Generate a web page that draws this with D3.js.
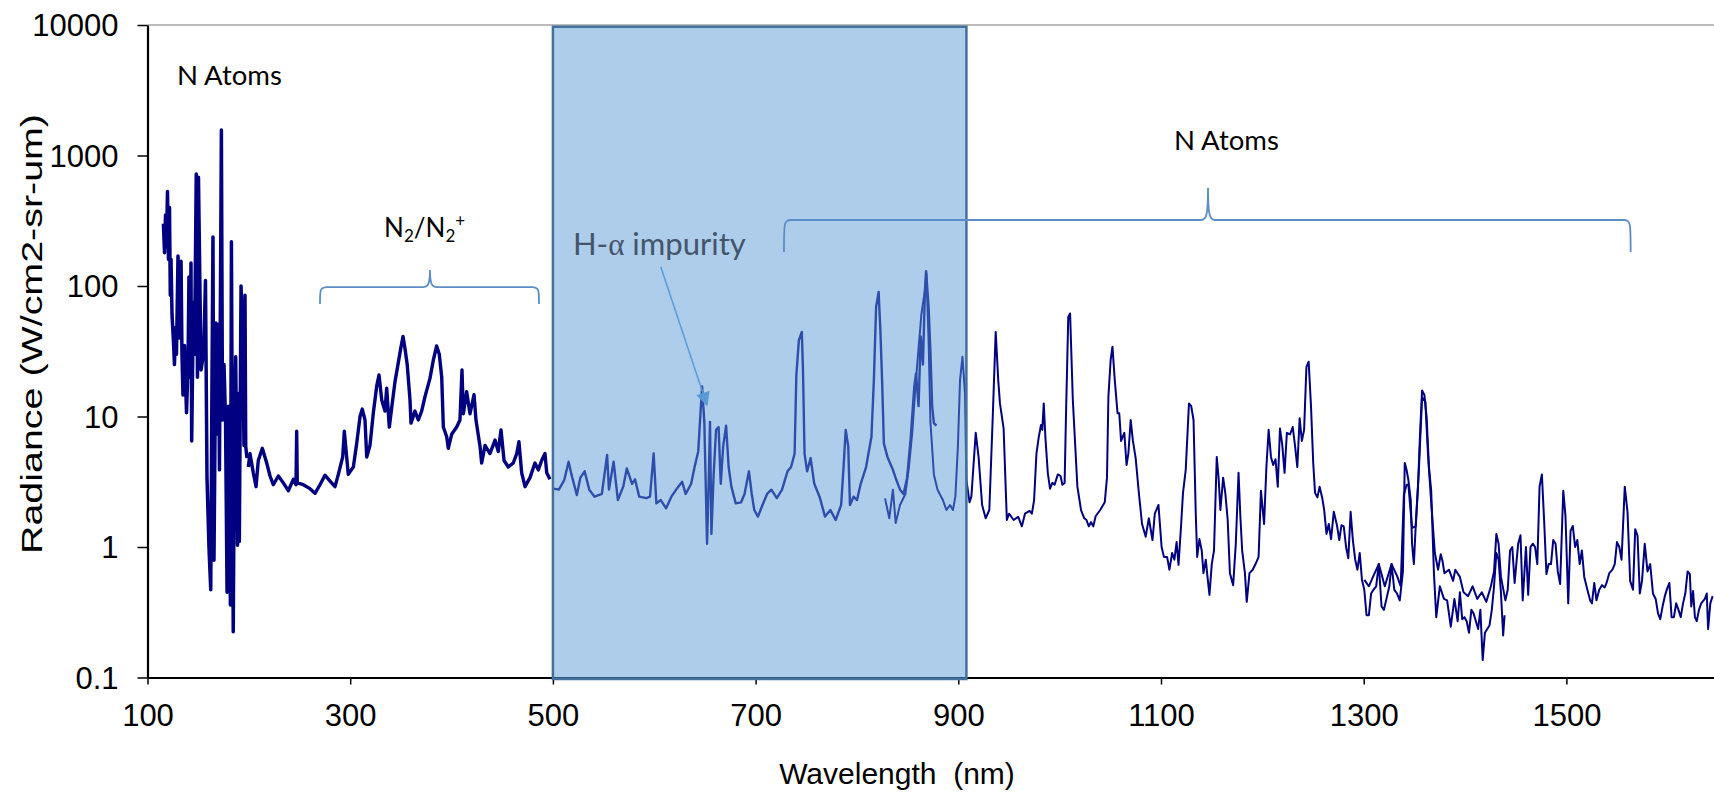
<!DOCTYPE html>
<html><head><meta charset="utf-8">
<script src="https://cdn.jsdelivr.net/npm/d3@7"></script>
<style>body{margin:0;background:#fff;} svg{display:block;}</style>
</head><body>
<svg id="chart" width="1714" height="794"></svg>
<script>
// ---------------- DATA ----------------
const xTicks = [100,300,500,700,900,1100,1300,1500];
const yTicks = [0.1,1,10,100,1000,10000];
const yTickLabels = ["0.1","1","10","100","1000","10000"];

// VUV region (N atoms lines)
const vuvNm = [115.7,116.8,117.8,118.7,119.7,120.7,121.7,122.5,123.2,124.2,
125.6,126.6,127.6,128.6,130.1,131.1,133.1,134.0,135.0,136.5,
138.5,140.0,140.9,141.9,142.9,143.6,145.3,146.4,148.1,149.3,
150.3,152.8,155.5,157.2,158.7,160.7,162.4,163.6,164.6,165.6,
167.5,169.2,170.1,171.0,172.9,174.0,175.5,177.0,178.5,179.9,
181.8,182.8,183.7,184.6,185.8,187.0,188.8,189.8,190.6,192.3,
194.1,195.2,196.2,196.9,198.2];
const vuvRad = [300,180,350,200,530,160,400,85,160,60,
38,25,48,30,170,40,155,30,14.6,35,
10.7,25,117,20,150,6.5,75,30,720,20,
680,22.7,31,110,3.4,0.97,0.47,17.7,237,0.79,
52,7.3,51,3.9,1568,9.4,25,9.4,0.45,12,
0.36,218,5,0.224,8,28.7,1.03,15,1.1,100,
34,6,85,5.9,4.8];

// UV region (N2 / N2+ bands)
const uvNm = [199.5,201.1,204.4,207.1,209.3,213.3,217.6,220.9,224.1,229.1,
234.0,238.9,243.9,246.5,247.2,247.8,253.7,260.3,265.3,270.2,
275.1,280.1,285.0,288.3,292.6,294.2,296.5,298.1,303.1,306.4,
309.7,311.9,314.6,316.3,319.5,322.8,326.1,328.4,331.1,334.3,
336.0,338.6,340.9,344.2,347.5,350.1,352.1,354.1,356.3,359.0,
360.0,363.9,367.2,370.5,373.8,378.7,382.0,385.3,387.9,390.3,
391.9,395.2,396.8,400.1,405.1,408.3,410.3,411.6,414.9,418.2,
422.2,424.1,428.1,429.7,433.0,437.9,442.9,446.1,448.8,451.8,
456.0,460.9,464.3,466.5,469.2,472.5,477.4,482.3,485.6,488.9,
492.2,493.9,497.1];
const uvRad = [4.1,5.2,3.7,2.9,4.6,5.7,4.4,3.5,3.0,3.5,
3.1,2.7,3.3,3.0,7.7,3.1,3.0,2.8,2.58,3.0,
3.55,3.2,2.9,3.6,4.9,7.7,4.9,3.6,4.1,6.2,
10,11.4,9.4,4.9,6,10.6,17,20.8,13.4,11,
16.5,8.3,11.6,18.5,26,34,41,33,24.8,13.4,
8.9,11,9.4,11,14.2,19.6,27,34.7,30,20,
8.3,7,5.7,7.3,8.3,9.4,22.7,10.5,15.5,10.5,
14.7,9.4,5.9,4.4,6,5.2,6.6,5.4,7.9,4.6,
4.1,4.4,5.2,6.4,3.7,2.9,3.4,4.4,3.9,4.6,
5.2,3.7,3.3];

// Visible region (first spectrometer, ends at ~878 nm)
const visNm = [500.7,505.9,511.2,515.5,518.3,523.6,527.1,531.3,535.9,541.1,
548.3,553.5,555.3,559.9,564.1,569.4,572.9,578.1,581.0,585.2,
592.3,595.8,599.4,602.1,606.4,611.7,616.9,622.3,627.5,631.0,
636.4,639.8,643.4,645.8,647.2,649.4,650.5,652.1,653.9,655.0,
656.4,658.6,661.0,663.5,665.6,668.0,670.9,673.4,676.1,680.4,
685.7,689.1,693.4,696.2,698.7,702.3,706.8,711.3,715.6,720.9,
726.1,731.5,735.0,738.5,740.2,742.7,745.6,746.7,748.3,750.8,
754.3,757.9,763.1,768.5,773.8,779.0,784.4,786.8,788.9,791.4,
793.1,796.7,800.1,803.7,809.0,814.3,816.7,818.9,821.4,823.1,
824.8,826.6,830.1,835.5,838.9,842.5,846.0,849.5,853.0,856.6,
858.3,860.8,862.9,865.1,867.1,868.2,870.7,872.5,874.2,875.9,878.4];
const visRad = [2.8,2.75,3.26,4.5,3.6,2.5,3.4,3.8,2.75,2.43,
2.55,5.07,2.75,4.5,2.29,2.9,4.0,3.05,3.3,2.43,
2.37,2.43,5.2,2.16,2.29,1.98,2.43,2.8,3.16,2.55,
3.05,4.1,5.4,11.2,17,9.1,3.8,1.06,3.6,9.1,
1.26,3.6,7.9,8.3,3.05,5.9,8.5,4.1,2.9,2.16,
2.2,2.55,3.8,2.55,1.92,1.71,2.1,2.55,2.75,2.37,
2.75,3.8,4.1,5.2,20.8,38.5,44.5,23.6,5.2,3.8,
4.8,3.05,2.43,1.71,1.92,1.61,2.1,4.1,7.9,5.9,
2.1,2.43,2.29,3.05,4.1,7,19,69,90,46,
19,6.2,4.9,3.9,3.26,2.75,2.55,3.4,6.8,17,
21.4,12,41,25,93,130,69,31,12,8.9,8.5];

// Near-IR region (second spectrometer, ~828-1439 nm)
const nirNm = [827.7,831.9,835.5,838.2,842.5,847.8,851.3,854.8,857.7,860.1,
863.6,867.1,868.5,870.7,872.5,875.9,879.5,884.8,888.3,891.8,
894.7,897.1,899.6,901.7,904.1,906.6,908.0,911.1,912.9,917.2,
920.0,923.5,927.0,930.6,934.1,936.9,939.4,
941.1,944.7,947.9,950.1,954.6,959.1,962.7,965.8,970.3,972.6,
974.8,977.1,979.3,981.6,982.9,984.3,986.0,988.3,990.5,992.8,
995.0,998.2,1000.9,1002.7,1004.9,1006.3,1008.5,1010.3,1013.0,1017.5,
1021.1,1024.3,1026.5,1028.8,1031.0,1033.2,1035.5,1040.0,1044.5,1046.7,
1048.1,1050.3,1052.1,1054.4,1057.1,1058.8,1060.6,1063.8,1066.0,1067.8,
1070.1,1072.3,1075.0,1078.2,1081.3,1084.9,1088.0,1091.6,1093.9,1097.5,
1100.6,1102.9,1106.0,1108.3,1111.0,1113.2,1115.4,1117.3,1119.9,1121.7,
1124.4,1127.6,1129.8,1132.1,1134.3,1135.7,1137.9,1140.2,1141.9,1144.2,
1145.6,1147.8,1150.1,1152.3,1155.0,1156.8,1158.6,1161.3,1163.5,1165.8,
1168.0,1171.2,1173.8,1176.5,1178.3,1180.1,1182.8,1184.6,1187.3,1190.5,
1193.6,1196.3,1198.6,1201.7,1204.0,1206.2,1208.5,1210.7,1213.0,1215.2,
1217.4,1219.7,1221.9,1224.2,1227.3,1230.0,1232.3,1234.5,1236.8,1239.0,
1241.2,1243.5,1245.7,1248.0,1250.2,1252.0,1254.3,1256.5,1259.2,1261.0,
1263.3,1265.5,1267.8,1270.5,1273.6,1275.9,1278.1,1280.3,1282.6,1284.8,
1287.1,1289.3,1291.6,1293.8,1296.1,1298.3,1300.6,1302.8,1305.1,1307.3,
1309.6,1312.3,1314.9,1317.6,1319.9,1322.1,1325.3,1327.5,1330.2,1332.9,
1335.6,1338.7,1340.5,1342.3,1344.1,1346.4,1347.7,1349.5,1351.3,1353.6,
1355.4,1357.6,1359.9,1362.1,1364.4,1366.6,1369.3,1371.6,1375.1,1379.2,
1382.3,1385.9,1389.5,1392.7,1394.9,1397.2,1399.4,1401.6,1403.9,1406.2,
1408.4,1410.7,1412.9,1415.1,1417.4,1419.6,1421.9,1424.1,1426.4,1428.6,
1430.9,1433.1,1435.4,1437.6,1439.0];
const nirRad = [2.36,1.66,2.75,1.53,2.1,2.55,4.1,7.9,17,28.7,
61,93,125,38,9.1,3.6,2.75,2.29,1.92,2.1,
1.92,2.43,5.9,19,28.7,15,3.26,2.2,2.43,7.5,
4.9,2.1,1.66,1.92,10.5,44.5,19,
12.6,8.1,1.61,1.8,1.61,1.7,1.44,1.8,1.89,1.8,
2.29,5.2,6.9,8.6,7.9,12.6,6.8,3.7,2.8,3.1,
3.0,3.6,3.5,3.0,3.1,10.6,58,61.6,13.4,2.9,
1.92,1.66,1.61,1.44,1.55,1.44,1.72,1.92,2.2,3.4,
14.2,27,34.3,19,10.6,10.6,6.5,7.5,4.25,5.2,
9.4,6.5,4.8,2.57,1.5,1.2,1.66,1.13,1.8,2.1,
1.0,0.84,0.84,0.67,0.9,0.8,1.09,0.73,1.5,2.6,
3.9,12.6,12,9.4,1.8,0.84,1.15,0.94,0.63,0.8,
0.62,0.43,0.74,0.94,4.9,3.4,1.92,3.4,2.57,1.61,
0.63,0.51,1.06,3.7,1.72,0.94,0.63,0.38,0.63,0.67,
0.75,0.84,2.7,1.5,4.1,7.9,4.9,4.25,4.7,2.9,
8.1,6.0,3.7,7.5,7.3,8.3,5.9,4.1,9.7,6.5,
7.9,24,26.3,12,4.4,2.6,2.4,2.9,2.35,1.92,
1.26,1.5,1.15,1.86,1.47,1.13,1.47,1.44,1.0,0.82,
1.86,1.13,0.8,0.67,0.9,0.56,0.47,0.3,0.3,0.44,
0.47,0.5,0.74,0.35,0.33,0.39,0.5,0.74,0.47,0.44,
0.39,0.65,4.4,3.9,3.26,2.29,1.06,0.74,1.44,2.9,
6.8,15.8,14.6,9.9,4.1,2.7,0.63,0.29,0.5,0.4,
0.39,0.245,0.4,0.27,0.45,0.28,0.29,0.27,0.22,0.33,
0.31,0.27,0.235,0.33,0.136,0.22,0.235,0.25,0.33,0.5,
0.9,0.8,0.45,0.21,0.3];

// IR region (third spectrometer, ~1300 nm onward)
const irNm = [1300.6,1305.1,1309.6,1314.9,1320.8,1327.5,1332.9,1336.5,1339.6,1342.3,
1344.1,1347.7,1351.3,1354.5,1357.6,1360.8,1363.5,1366.6,1370.2,1373.4,
1376.0,1377.8,1379.6,1384.1,1388.2,1390.4,1394.9,1398.5,1403.0,1407.5,
1412.0,1416.5,1421.0,1425.5,1428.6,1430.9,1433.1,1435.4,1439.8,1442.1,
1444.4,1446.6,1448.9,1452.4,1454.7,1456.9,1460.1,1462.3,1464.6,1466.8,
1469.1,1471.3,1473.5,1475.8,1478.0,1480.3,1482.5,1484.8,1487.0,1489.3,
1491.5,1493.8,1496.9,1499.1,1501.8,1504.1,1506.3,1508.6,1510.8,1513.1,
1515.3,1517.6,1520.7,1523.4,1525.2,1527.5,1529.7,1532.4,1535.1,1537.8,
1539.6,1542.3,1545.4,1547.7,1549.9,1552.2,1554.4,1557.6,1560.3,1562.9,
1565.7,1567.9,1570.2,1572.4,1574.6,1577.3,1580.0,1582.7,1585.4,1588.1,
1590.4,1592.6,1594.9,1597.1,1599.4,1601.6,1603.8,1606.1,1608.3,1610.6,
1612.8,1615.1,1617.3,1619.6,1621.8,1623.2,1625.0,1626.8,1628.6,1630.8,
1633.0,1636.6,1638.5,1639.8,1642.0,1644.3];
const irRad = [0.56,0.5,0.6,0.74,0.5,0.74,0.6,0.5,2.5,3.0,
3.0,1.4,1.44,4,14,13,5,2.2,0.9,0.67,
0.88,0.78,0.63,0.67,0.55,0.67,0.59,0.45,0.42,0.5,
0.4,0.45,0.38,0.5,0.65,1.26,1.06,0.59,0.39,0.47,
0.94,1.0,0.53,1.06,1.23,0.39,1.0,0.43,1.0,1.06,
1.0,0.74,2.9,3.6,1.61,0.62,0.74,0.74,1.13,1.06,
0.65,0.52,2.7,1.72,0.37,1.33,1.45,1.0,1.13,0.74,
0.94,0.59,0.47,0.39,0.37,0.53,0.39,0.47,0.51,0.49,
0.53,0.63,0.67,0.74,1.09,1.0,0.8,2.9,1.86,0.55,
0.47,1.37,1.22,0.44,0.55,1.06,0.65,0.74,0.44,0.40,
0.31,0.28,0.35,0.42,0.48,0.53,0.29,0.29,0.37,0.33,
0.29,0.37,0.44,0.65,0.62,0.35,0.46,0.29,0.27,0.33,
0.37,0.40,0.44,0.235,0.37,0.42];

// Highlighted band (nm) and annotation anchors (nm, radiance)
const bandNm = [500, 908];
const bandRad = [0.1, 9700];
const bracketN2 = {x0:270.2, xc:378.7, x1:486.3, yH:98.2, yTip:132.6, yEnd:72.8};
const bracketN = {x0:728.0, xc:1146.4, x1:1563.4, yH:320.5, yTip:566, yEnd:182.3};
const labelNAtomsLeft = [129.1, 3467];
const labelN2 = [333.4, 237.4];
const labelNAtomsRight = [1112.8, 1102];
const labelHalpha = [519.8, 172.9];
const arrowHalpha = [[606.4, 140.6],[652.0, 12.25]];

// ---------------- CHART ----------------
const svg = d3.select("#chart");
const x = d3.scaleLinear().domain([100,1700]).range([147.5, 1769.1]);
const y = d3.scaleLog().domain([0.1,10000]).range([677.5, 25]);
const NAVY = "#000080";
const BR = "#5B8DC8";

// top frame line
svg.append("line")
  .attr("x1", x(100)).attr("x2", 1714)
  .attr("y1", y(10000)).attr("y2", y(10000))
  .attr("stroke", "#a6a6a6").attr("stroke-width", 1.5);

// axes
const xAxis = d3.axisBottom(x).tickValues(xTicks).tickSize(7).tickSizeOuter(0).tickFormat(d3.format("d"));
const gx = svg.append("g").attr("transform", `translate(0,${y(0.1)})`).call(xAxis);
gx.select(".domain").attr("stroke", "#000").attr("stroke-width", 2.2);
gx.selectAll(".tick line").attr("stroke", "#000").attr("stroke-width", 1.5);
gx.selectAll(".tick text").attr("y", 48.5).attr("dy", 0)
  .attr("font-family", "'Liberation Sans', Arial, sans-serif").attr("font-size", 31).attr("fill", "#000");

const yAxis = d3.axisLeft(y).tickValues(yTicks).tickSize(10).tickSizeOuter(0)
  .tickFormat((d,i) => yTickLabels[i]);
const gy = svg.append("g").attr("transform", `translate(${x(100)},0)`).call(yAxis);
gy.select(".domain").attr("stroke", "#000").attr("stroke-width", 2.2);
gy.selectAll(".tick line").attr("stroke", "#000").attr("stroke-width", 1.5);
gy.selectAll(".tick text").attr("x", -29).attr("dy", "0.35em")
  .attr("font-family", "'Liberation Sans', Arial, sans-serif").attr("font-size", 31).attr("fill", "#000");

// axis titles
svg.append("text")
  .attr("x", 897).attr("y", 784).attr("text-anchor", "middle")
  .attr("font-family", "'Liberation Sans', Arial, sans-serif").attr("font-size", 30)
  .attr("xml:space", "preserve")
  .text("Wavelength  (nm)");
svg.append("text")
  .attr("transform", "translate(42,334) rotate(-90)")
  .attr("text-anchor", "middle")
  .attr("font-family", "'Liberation Sans', Arial, sans-serif").attr("font-size", 30)
  .attr("textLength", 440).attr("lengthAdjust", "spacingAndGlyphs")
  .text("Radiance  (W/cm2-sr-um)");

// spectra
const line = d3.line().x(d => x(d[0])).y(d => y(d[1]));
function drawSeries(nm, rad, w) {
  svg.append("path").datum(d3.zip(nm, rad))
    .attr("d", line).attr("fill", "none")
    .attr("stroke", NAVY).attr("stroke-width", w)
    .attr("stroke-linejoin", "round");
}
drawSeries(vuvNm, vuvRad, 3.5);
drawSeries(uvNm, uvRad, 3.4);
drawSeries(visNm, visRad, 2.4);
drawSeries(nirNm, nirRad, 2);
drawSeries(irNm, irRad, 2);

// highlighted band
svg.append("rect")
  .attr("x", x(bandNm[0])).attr("y", y(bandRad[1]))
  .attr("width", x(bandNm[1]) - x(bandNm[0]))
  .attr("height", y(bandRad[0]) - y(bandRad[1]) + 1.5)
  .attr("fill", "#5B9BD5").attr("fill-opacity", 0.5)
  .attr("stroke", "#41719C").attr("stroke-width", 2.5);

// brackets
function bracket(b) {
  const x0 = x(b.x0), xc = x(b.xc), x1 = x(b.x1);
  const yh = y(b.yH), yt = y(b.yTip), ye = y(b.yEnd);
  const r = 7;
  const p = `M${x0},${ye} C${x0},${yh+3} ${x0},${yh} ${x0+r},${yh} L${xc-r},${yh} ` +
            `C${xc-2},${yh} ${xc},${yh-3} ${xc},${yt} C${xc},${yh-3} ${xc+2},${yh} ${xc+r},${yh} ` +
            `L${x1-r},${yh} C${x1},${yh} ${x1},${yh+3} ${x1},${ye}`;
  svg.append("path").attr("d", p).attr("fill", "none")
    .attr("stroke", BR).attr("stroke-width", 1.8);
}
bracket(bracketN2);
bracket(bracketN);

// labels
const LF = "Lato, 'Open Sans', sans-serif";
svg.append("text").attr("x", x(labelNAtomsLeft[0])).attr("y", y(labelNAtomsLeft[1]))
  .attr("font-family", LF).attr("font-size", 27.5).attr("fill", "#000").text("N Atoms");
svg.append("text").attr("x", x(labelNAtomsRight[0])).attr("y", y(labelNAtomsRight[1]))
  .attr("font-family", LF).attr("font-size", 27.5).attr("fill", "#000").text("N Atoms");
const n2 = svg.append("text").attr("x", x(labelN2[0])).attr("y", y(labelN2[1]))
  .attr("font-family", LF).attr("font-size", 26).attr("fill", "#000");
n2.append("tspan").text("N");
n2.append("tspan").attr("font-size", 17).attr("dy", 5).text("2");
n2.append("tspan").attr("dy", -5).text("/N");
n2.append("tspan").attr("font-size", 17).attr("dy", 5).text("2");
n2.append("tspan").attr("font-size", 17).attr("dy", -15).text("+");

const ha = svg.append("text").attr("x", x(labelHalpha[0])).attr("y", y(labelHalpha[1]))
  .attr("font-family", LF).attr("font-size", 31).attr("fill", "#44546A");
ha.append("tspan").text("H-");
ha.append("tspan").attr("font-family", "'Liberation Serif', 'DejaVu Serif', serif").text("α");
ha.append("tspan").text(" impurity");

// arrow
const defs = svg.append("defs");
defs.append("marker").attr("id", "ah").attr("viewBox", "0 0 10 10")
  .attr("refX", 9).attr("refY", 5).attr("markerWidth", 17).attr("markerHeight", 14)
  .attr("markerUnits", "userSpaceOnUse").attr("orient", "auto")
  .append("path").attr("d", "M0,0 L10,5 L0,10 z").attr("fill", "#5B9BD5");
svg.append("line")
  .attr("x1", x(arrowHalpha[0][0])).attr("y1", y(arrowHalpha[0][1]))
  .attr("x2", x(arrowHalpha[1][0])).attr("y2", y(arrowHalpha[1][1]))
  .attr("stroke", "#5B9BD5").attr("stroke-width", 1.5)
  .attr("marker-end", "url(#ah)");
</script>
</body></html>
